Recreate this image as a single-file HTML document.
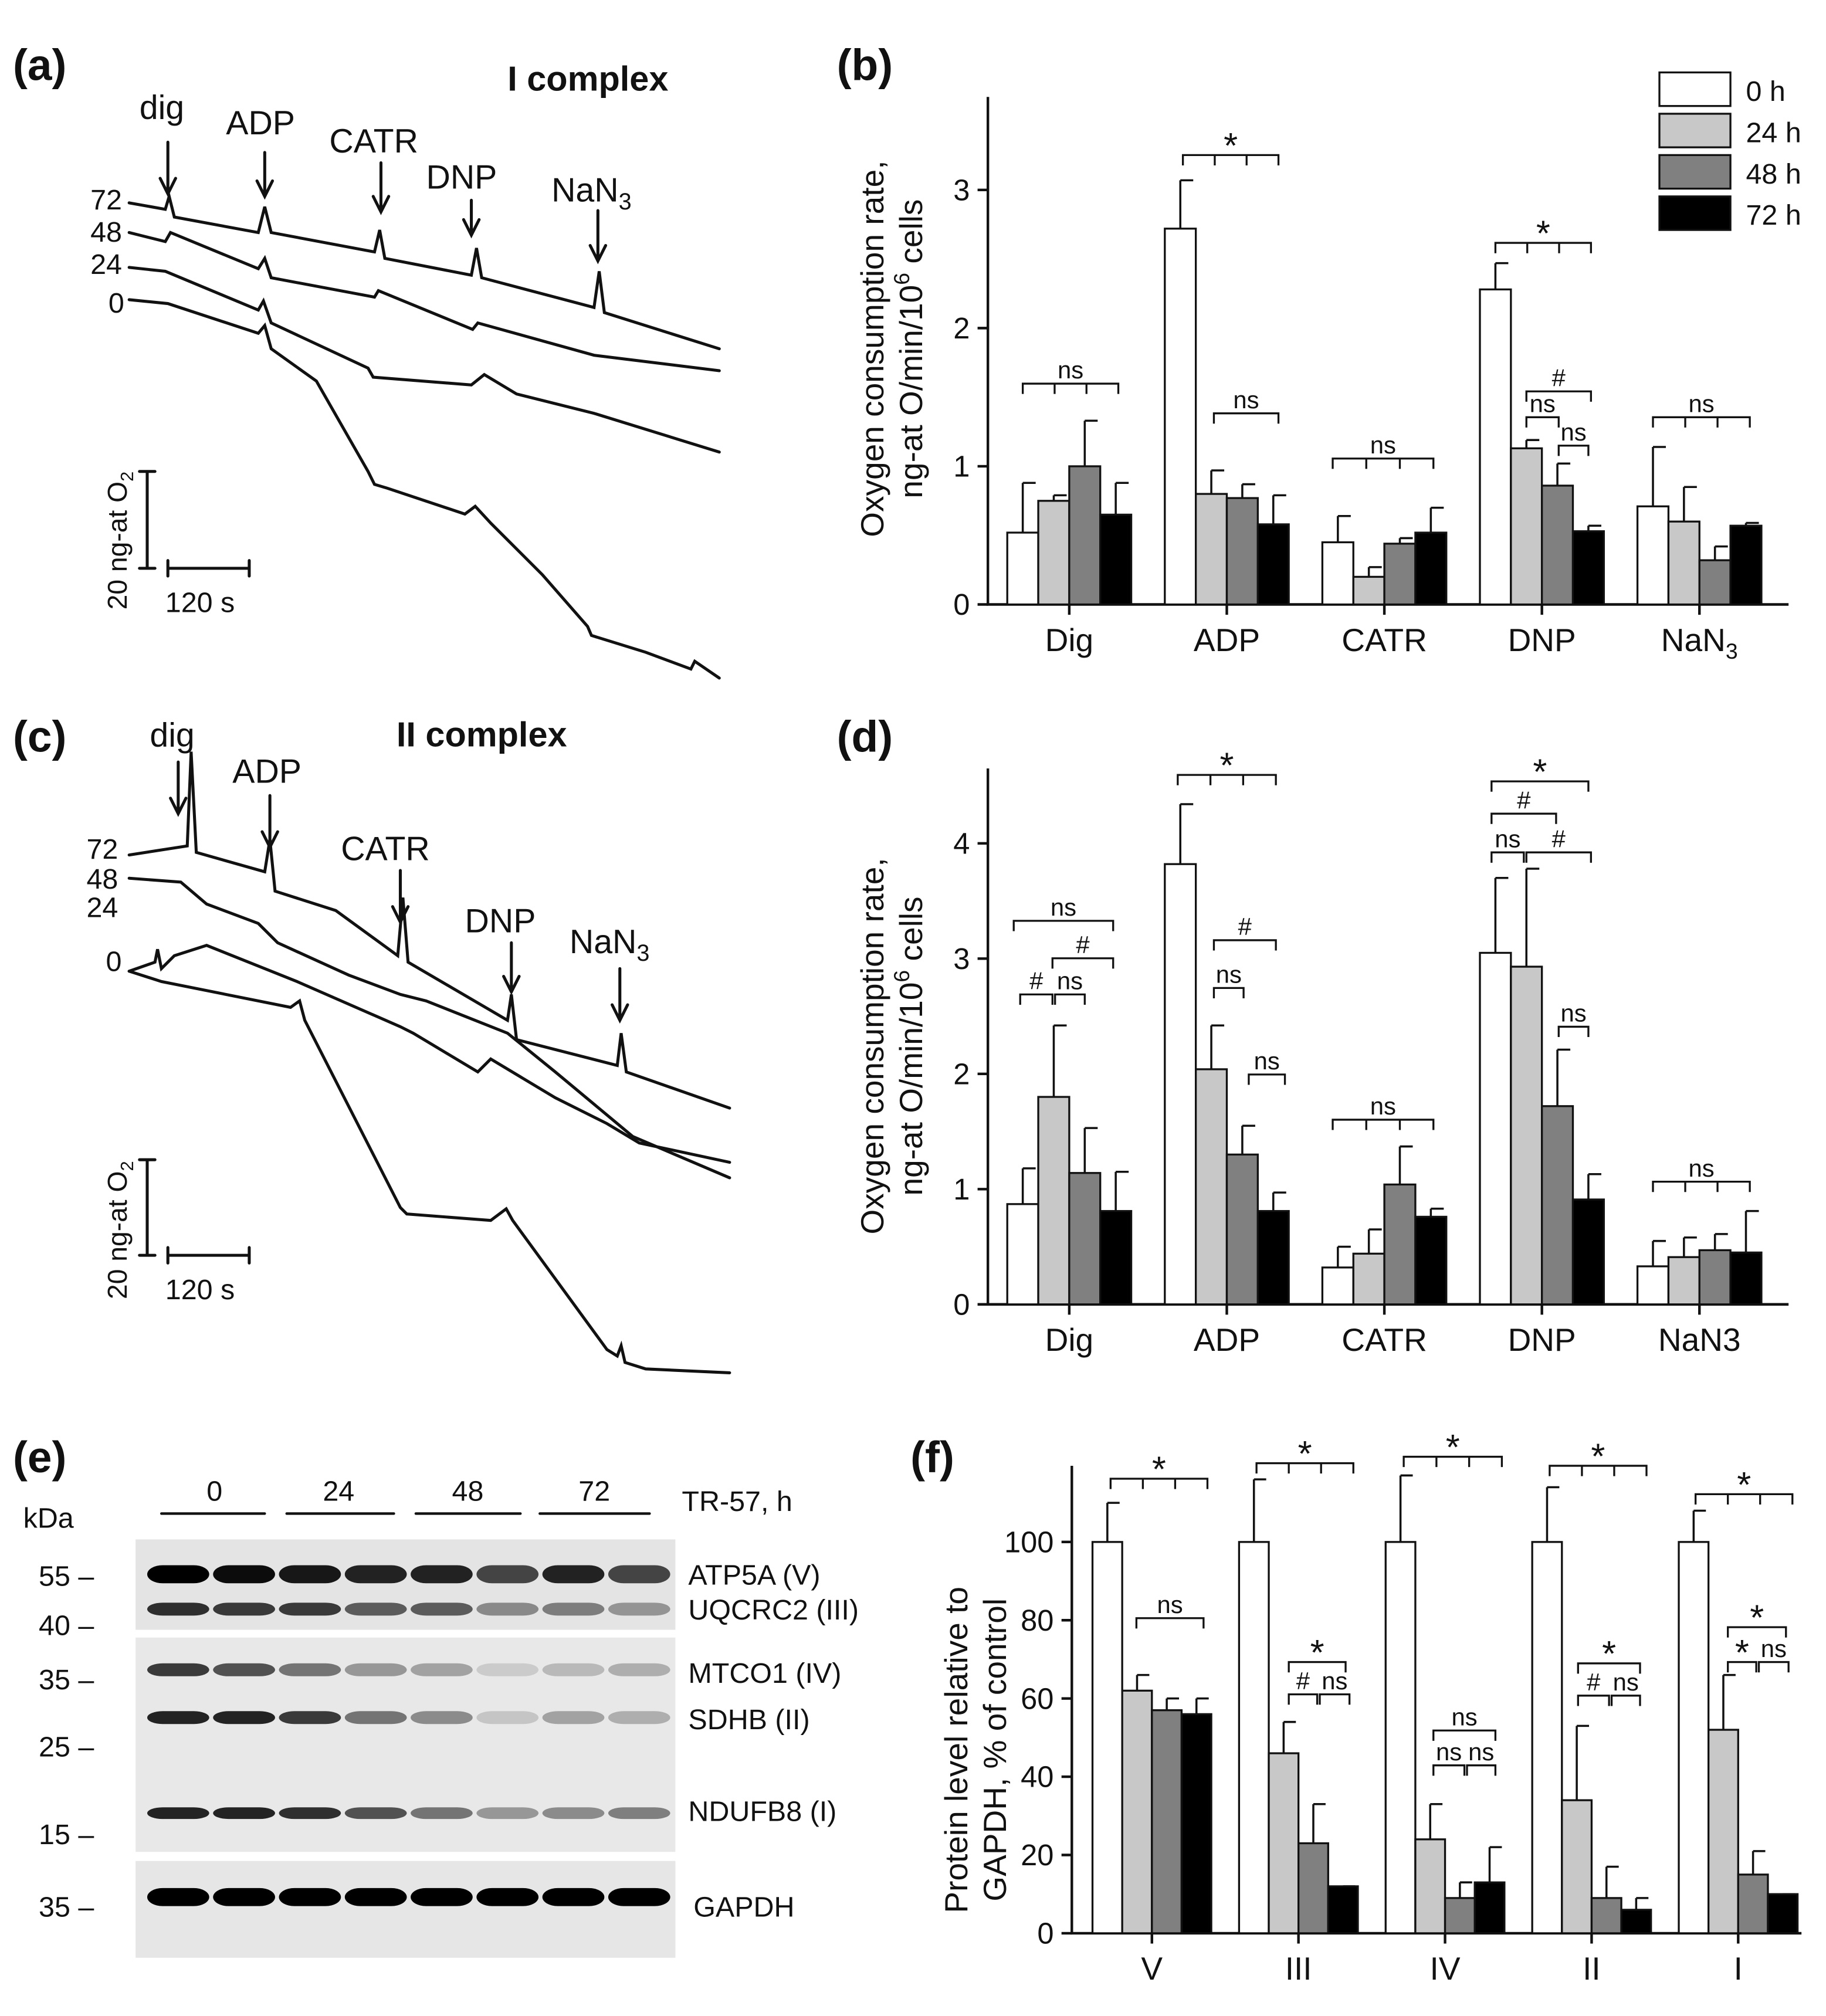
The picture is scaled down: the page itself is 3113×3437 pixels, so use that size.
<!DOCTYPE html>
<html><head><meta charset="utf-8"><style>
html,body{margin:0;padding:0;background:#fff}
svg{display:block}
text{font-family:"Liberation Sans",sans-serif;fill:#111}
</style></head><body>
<svg id="fig" width="3113" height="3437" viewBox="0 0 1414 1561" xmlns="http://www.w3.org/2000/svg">
<g id="static" stroke-linecap="round">
<text x="10" y="62" font-size="34" font-weight="bold">(a)</text>
<text x="648" y="62" font-size="34" font-weight="bold">(b)</text>
<text x="10" y="582" font-size="34" font-weight="bold">(c)</text>
<text x="648" y="582" font-size="34" font-weight="bold">(d)</text>
<text x="10" y="1140" font-size="34" font-weight="bold">(e)</text>
<text x="705" y="1140" font-size="34" font-weight="bold">(f)</text>

<g fill="none" stroke="#111" stroke-width="2.3">
<text x="393" y="70" font-size="27" font-weight="bold" stroke="none">I complex</text>
<text x="108" y="92" font-size="26" stroke="none">dig</text>
<text x="175" y="104" font-size="26" stroke="none">ADP</text>
<text x="255" y="118" font-size="26" stroke="none">CATR</text>
<text x="330" y="146" font-size="26" stroke="none">DNP</text>
<text x="427" y="156" font-size="26" stroke="none">NaN<tspan font-size="18" dy="6">3</tspan></text>
<path d="M130 110V148M124 138L130 150L136 138M205 118V150M199 140L205 152L211 140M295 126V162M289 152L295 164L301 152M365 155V180M359 170L365 182L371 170M463 163V200M457 190L463 202L469 190"/>
<text x="70" y="162" font-size="22" stroke="none">72</text>
<text x="70" y="187" font-size="22" stroke="none">48</text>
<text x="70" y="212" font-size="22" stroke="none">24</text>
<text x="84" y="242" font-size="22" stroke="none">0</text>
<path d="M100 157L128 162L131 152L135 168L200 180L205 160L210 180L290 195L294 178L298 200L365 213L369 192L373 215L460 238L464 210L468 242L557 270"/>
<path d="M100 180L128 187L132 180L200 208L205 200L210 215L290 230L293 225L366 255L370 250L460 275L557 287"/>
<path d="M100 207L128 210L200 240L204 233L210 250L285 285L289 292L365 298L375 290L400 305L460 320L557 350"/>
<path d="M100 232L130 235L200 258L205 252L210 270L245 295L285 365L290 375L300 378L360 398L368 392L380 405L420 445L455 485L458 492L500 505L535 518L538 512L557 525"/>
<path d="M114 365V440M108 365H120M108 440H120M130 440H193M130 434V446M193 434V446"/>
<text font-size="21" stroke="none" transform="translate(98 472) rotate(-90)">20 ng-at O<tspan font-size="14" dy="5">2</tspan></text>
<text x="128" y="474" font-size="22" stroke="none">120 s</text>
</g>

<g fill="none" stroke="#111" stroke-width="2.3">
<text x="307" y="578" font-size="27" font-weight="bold" stroke="none">II complex</text>
<text x="116" y="578" font-size="26" stroke="none">dig</text>
<text x="180" y="606" font-size="26" stroke="none">ADP</text>
<text x="264" y="666" font-size="26" stroke="none">CATR</text>
<text x="360" y="722" font-size="26" stroke="none">DNP</text>
<text x="441" y="738" font-size="26" stroke="none">NaN<tspan font-size="18" dy="6">3</tspan></text>
<path d="M138 590V628M132 618L138 630L144 618M209 616V654M203 644L209 656L215 644M310 674V712M304 702L310 714L316 702M396 730V766M390 756L396 768L402 756M480 750V788M474 778L480 790L486 778"/>
<text x="67" y="665" font-size="22" stroke="none">72</text>
<text x="67" y="688" font-size="22" stroke="none">48</text>
<text x="67" y="710" font-size="22" stroke="none">24</text>
<text x="82" y="752" font-size="22" stroke="none">0</text>
<path d="M100 662L145 655L148 582L152 660L205 675L209 650L213 690L260 705L308 740L312 695L316 745L393 790L396 770L400 805L478 825L481 800L485 830L565 858"/>
<path d="M100 680L140 683L160 700L200 715L215 730L270 755L310 770L330 775L393 800L430 830L490 880L565 912"/>
<path d="M100 752L120 745L122 735L125 750L135 740L160 732L230 760L310 795L320 800L370 830L375 825L380 820L430 850L470 870L495 885L565 900"/>
<path d="M100 752L125 760L225 780L232 775L236 790L310 935L315 940L380 945L392 936L397 945L470 1045L478 1050L481 1042L484 1055L500 1060L565 1063"/>
<path d="M114 898V972M108 898H120M108 972H120M130 972H193M130 966V978M193 966V978"/>
<text font-size="21" stroke="none" transform="translate(98 1006) rotate(-90)">20 ng-at O<tspan font-size="14" dy="5">2</tspan></text>
<text x="128" y="1006" font-size="22" stroke="none">120 s</text>
</g>

<g>
<text x="18" y="1183" font-size="22">kDa</text>
<g stroke="#111" stroke-width="2"><line x1="125" y1="1172" x2="205" y2="1172"/><line x1="222" y1="1172" x2="305" y2="1172"/><line x1="322" y1="1172" x2="403" y2="1172"/><line x1="418" y1="1172" x2="503" y2="1172"/></g>
<text x="160" y="1162" font-size="22">0</text><text x="250" y="1162" font-size="22">24</text><text x="350" y="1162" font-size="22">48</text><text x="448" y="1162" font-size="22">72</text>
<text x="528" y="1170" font-size="22">TR-57, h</text>
<rect x="105" y="1192" width="418" height="70" fill="#e4e4e4"/>
<rect x="105" y="1268" width="418" height="166" fill="#e8e8e8"/>
<rect x="105" y="1441" width="418" height="75" fill="#e6e6e6"/>
<g id="bands"></g>
<g font-size="22"><text x="30" y="1228">55 –</text><text x="30" y="1266">40 –</text><text x="30" y="1308">35 –</text><text x="30" y="1360">25 –</text><text x="30" y="1428">15 –</text><text x="30" y="1484">35 –</text>
<text x="533" y="1227">ATP5A (V)</text><text x="533" y="1254">UQCRC2 (III)</text><text x="533" y="1303">MTCO1 (IV)</text><text x="533" y="1339">SDHB (II)</text><text x="533" y="1410">NDUFB8 (I)</text><text x="537" y="1484">GAPDH</text></g>
</g>

<g font-size="22" stroke="#111" stroke-width="1.5">
<rect x="1285" y="56" width="55" height="26" fill="#fff"/>
<rect x="1285" y="88" width="55" height="26" fill="#c8c8c8"/>
<rect x="1285" y="120" width="55" height="26" fill="#808080"/>
<rect x="1285" y="152" width="55" height="26" fill="#000"/>
<text x="1352" y="78" stroke="none">0 h</text><text x="1352" y="110" stroke="none">24 h</text><text x="1352" y="142" stroke="none">48 h</text><text x="1352" y="174" stroke="none">72 h</text>
</g>
</g>
<g id="charts"></g>
</svg>
<script>
const groupsB = ["Dig","ADP","CATR","DNP","NaN3"];
const b0 = [0.52,2.72,0.45,2.28,0.71];
const b24 = [0.75,0.80,0.20,1.13,0.60];
const b48 = [1.00,0.77,0.44,0.86,0.32];
const b72 = [0.65,0.58,0.52,0.53,0.57];
const bErr0 = [0.36,0.35,0.19,0.19,0.43];
const bErr24 = [0.04,0.17,0.07,0.06,0.25];
const bErr48 = [0.33,0.10,0.04,0.16,0.10];
const bErr72 = [0.23,0.21,0.18,0.04,0.02];
const ticksB = [0,1,2,3];

const groupsD = ["Dig","ADP","CATR","DNP","NaN3"];
const d0 = [0.87,3.82,0.32,3.05,0.33];
const d24 = [1.80,2.04,0.44,2.93,0.41];
const d48 = [1.14,1.30,1.04,1.72,0.47];
const d72 = [0.81,0.81,0.76,0.91,0.45];
const dErr0 = [0.31,0.52,0.18,0.65,0.22];
const dErr24 = [0.62,0.38,0.21,0.85,0.17];
const dErr48 = [0.39,0.25,0.33,0.49,0.14];
const dErr72 = [0.34,0.16,0.07,0.22,0.36];
const ticksD = [0,1,2,3,4];

const groupsF = ["V","III","IV","II","I"];
const f0 = [100,100,100,100,100];
const f24 = [62,46,24,34,52];
const f48 = [57,23,9,9,15];
const f72 = [56,12,13,6,10];
const fErr0 = [10,16,17,14,8];
const fErr24 = [4,8,9,19,14];
const fErr48 = [3,10,4,8,6];
const fErr72 = [4,0,9,3,0];
const ticksF = [0,20,40,60,80,100];

const bandATP = [1,0.95,0.9,0.85,0.85,0.7,0.85,0.7];
const bandUQ = [0.8,0.75,0.75,0.6,0.6,0.4,0.45,0.35];
const bandMT = [0.75,0.65,0.5,0.35,0.3,0.12,0.2,0.25];
const bandSD = [0.85,0.85,0.75,0.5,0.4,0.15,0.3,0.25];
const bandND = [0.85,0.85,0.8,0.65,0.5,0.35,0.4,0.45];
const bandGA = [1,1,1,1,1,1,1,1];

const NS = "http://www.w3.org/2000/svg";
const charts = document.getElementById('charts');
function mk(tag, attrs, parent){ const e=document.createElementNS(NS,tag); for(const k in attrs) e.setAttribute(k,attrs[k]); (parent||charts).appendChild(e); return e; }
const fills = ["#ffffff","#c8c8c8","#808080","#000000"];

function drawChart(cfg){
  const g = mk('g',{});
  
  
  const y = v => cfg.y0 - v * cfg.scale;
  const ax = mk('path',{d:`M${cfg.x0} ${cfg.top}V${cfg.y0}H${cfg.xEnd}`,stroke:'#111','stroke-width':2,fill:'none'},g);
  
  
  cfg.ticks.forEach(t=>{
    mk('line',{x1:cfg.x0-8,x2:cfg.x0,y1:y(t),y2:y(t),stroke:'#111','stroke-width':2},g);
    const tl = mk('text',{x:cfg.x0-14,y:y(t)+8,'font-size':23,'text-anchor':'end'},g);
    tl.textContent = t;
    
    
  });
  const series=[cfg.s0,cfg.s24,cfg.s48,cfg.s72], errs=[cfg.e0,cfg.e24,cfg.e48,cfg.e72];
  cfg.groups.forEach((gname,i)=>{
    const cx = cfg.c0 + i*cfg.step;
    mk('line',{x1:cx,x2:cx,y1:cfg.y0,y2:cfg.y0+8,stroke:'#111','stroke-width':2},g);
    const lab = mk('text',{x:cx,y:cfg.y0+36,'font-size':25,'text-anchor':'middle'},g);
    if(gname==="NaN3" && cfg.sub){ lab.textContent="NaN"; const ts=mk('tspan',{'font-size':17,dy:6},lab); ts.textContent="3"; }
    else lab.textContent = gname;
    
    
    series.forEach((s,k)=>{
      const bx = cx - 2*cfg.bw + k*cfg.bw;
      const top = y(s[i]);
      const et = y(s[i]+errs[k][i]);
      const el = mk('line',{x1:bx+cfg.bw/2,x2:bx+cfg.bw/2,y1:top,y2:et,stroke:'#111','stroke-width':1.6},g);
      
      
      mk('line',{x1:bx+cfg.bw/2,x2:bx+cfg.bw-2,y1:et,y2:et,stroke:'#111','stroke-width':1.6},g);
      const r = mk('rect',{x:bx,y:top,width:cfg.bw,height:cfg.y0-top,fill:fills[k],stroke:'#111','stroke-width':1.5},g);
      
      
    });
  });
  const yl = mk('text',{'font-size':25,'text-anchor':'middle',transform:`translate(${cfg.ylx} ${cfg.yly}) rotate(-90)`},g);
  
  
  cfg.ytitle(yl);
  cfg.brackets.forEach(b=>{
    const [x1,x2,by,label,comb]=b;
    let d=`M${x1} ${by+8}V${by}H${x2}V${by+8}`;
    if(comb){ const w=(x2-x1)/3; d+=`M${x1+w} ${by}V${by+8}M${x1+2*w} ${by}V${by+8}`; }
    const p=mk('path',{d:d,stroke:'#111','stroke-width':1.5,fill:'none'},g);
    
    
    const big = label==='*';
    const t=mk('text',{x:(x1+x2)/2,y:big?by+2:by-4,'font-size':big?28:19,'text-anchor':'middle'},g);
    t.textContent=label;
    
    
  });
}
function oxTitle(t){ const a=mk('tspan',{x:0,dy:-16},t); a.textContent="Oxygen consumption rate,"; const b=mk('tspan',{x:0,dy:30},t); b.textContent="ng-at O/min/10"; const c=mk('tspan',{'font-size':17,dy:-10},t); c.textContent="6"; const d=mk('tspan',{dy:10},t); d.textContent=" cells"; }

drawChart({name:'chart-b',x0:765,y0:468,top:75,xEnd:1385,scale:107,c0:828,step:122,bw:24,ticks:ticksB,groups:groupsB,sub:true,
 s0:b0,s24:b24,s48:b48,s72:b72,e0:bErr0,e24:bErr24,e48:bErr48,e72:bErr72,ylx:700,yly:270,ytitle:oxTitle,
 brackets:[[792,866,297,'ns',1],[916,990,120,'*',1],[940,990,320,'ns',0],[1032,1110,355,'ns',1],[1158,1232,188,'*',1],[1182,1232,303,'#',0],[1182,1207,323,'ns',0],[1207,1230,345,'ns',0],[1280,1355,323,'ns',1]]});

drawChart({name:'chart-d',x0:765,y0:1010,top:595,xEnd:1385,scale:89.25,c0:828,step:122,bw:24,ticks:ticksD,groups:groupsD,sub:false,
 s0:d0,s24:d24,s48:d48,s72:d72,e0:dErr0,e24:dErr24,e48:dErr48,e72:dErr72,ylx:700,yly:810,ytitle:oxTitle,
 brackets:[[785,862,713,'ns',0],[815,862,742,'#',0],[790,815,770,'#',0],[817,840,770,'ns',0],[912,988,600,'*',1],[940,988,728,'#',0],[940,963,765,'ns',0],[967,995,832,'ns',0],[1032,1110,867,'ns',1],[1155,1230,605,'*',0],[1155,1205,630,'#',0],[1155,1180,660,'ns',0],[1182,1232,660,'#',0],[1207,1230,795,'ns',0],[1280,1355,915,'ns',1]]});

drawChart({name:'chart-f',x0:830,y0:1497,top:1135,xEnd:1395,scale:3.03,c0:892,step:113.5,bw:23,ticks:ticksF,groups:groupsF,sub:false,
 s0:f0,s24:f24,s48:f48,s72:f72,e0:fErr0,e24:fErr24,e48:fErr48,e72:fErr72,ylx:765,yly:1355,
 ytitle:function(t){const a=mk('tspan',{x:0,dy:-16},t);a.textContent="Protein level relative to";const b=mk('tspan',{x:0,dy:30},t);b.textContent="GAPDH, % of control";},
 brackets:[[860,935,1145,'*',1],[880,932,1253,'ns',0],[973,1048,1133,'*',1],[998,1042,1287,'*',0],[998,1020,1312,'#',0],[1022,1045,1312,'ns',0],[1087,1163,1128,'*',1],[1110,1158,1340,'ns',0],[1110,1134,1367,'ns',0],[1136,1158,1367,'ns',0],[1200,1275,1135,'*',1],[1222,1270,1288,'*',0],[1222,1246,1313,'#',0],[1248,1270,1313,'ns',0],[1313,1388,1157,'*',1],[1338,1383,1260,'*',0],[1338,1360,1287,'*',0],[1362,1385,1287,'ns',0]]});

const bands = document.getElementById('bands');
const rows = [[1219,bandATP,12],[1246,bandUQ,8],[1293,bandMT,8],[1330,bandSD,8],[1404,bandND,7],[1469,bandGA,12]];
rows.forEach(r=>{
  r[1].forEach((v,i)=>{
    const cx = 138 + i*51;
    const e = mk('rect',{x:cx-24,y:r[0]-r[2]/2-1,width:48,height:r[2]+2,rx:12,ry:r[2]/2+1,fill:'#000','fill-opacity':v},bands);
    
    
  });
});
</script>
</body></html>
